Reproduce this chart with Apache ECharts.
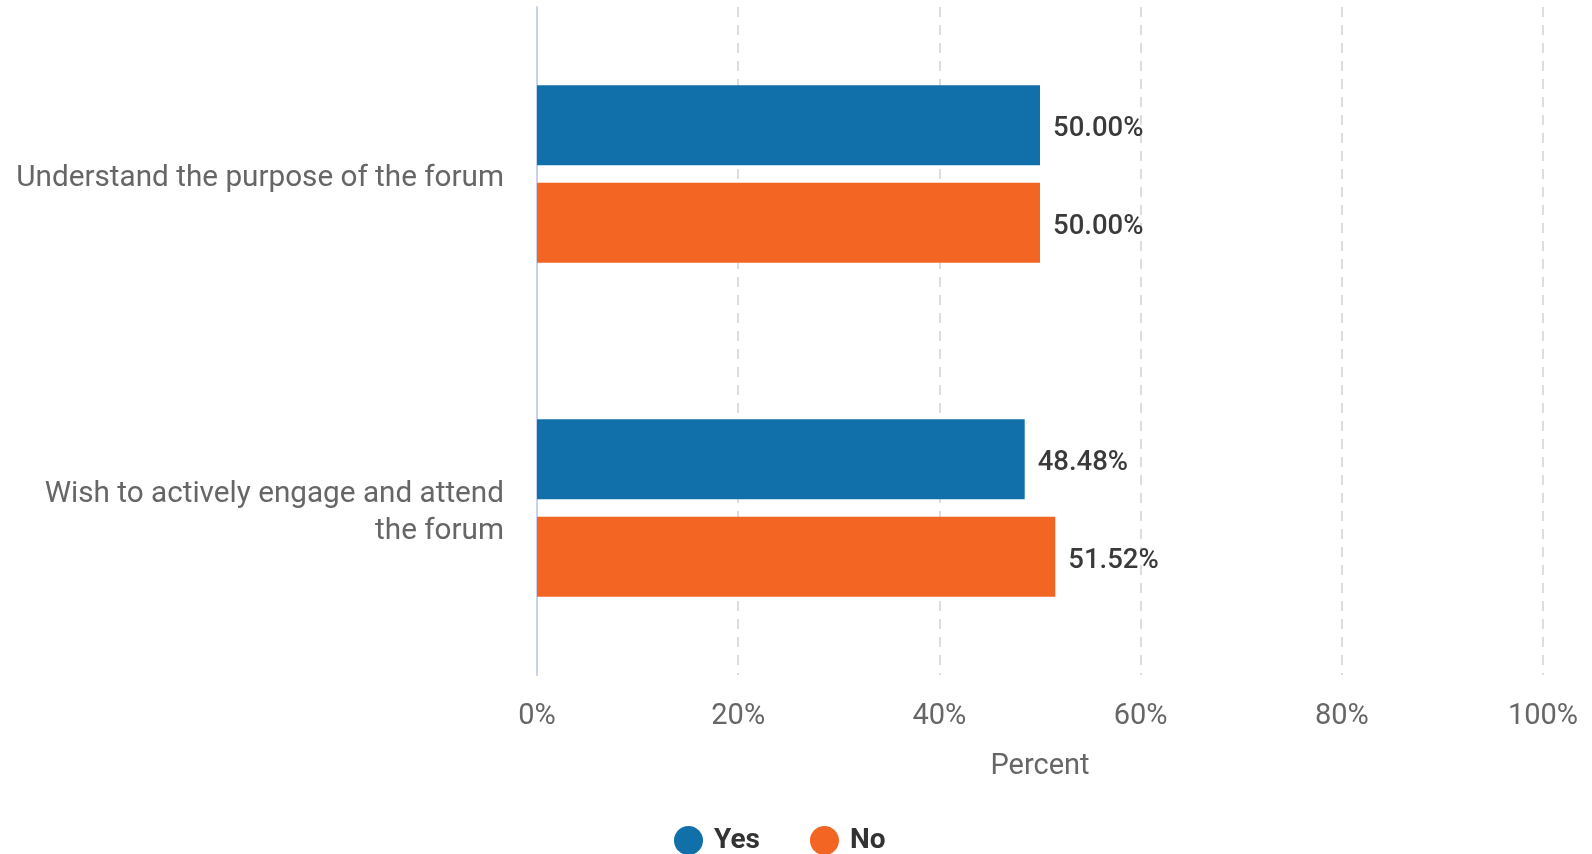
<!DOCTYPE html>
<html>
<head>
<meta charset="utf-8">
<script src="https://cdn.jsdelivr.net/npm/echarts@6/dist/echarts.min.js"></script>
<style>
  html, body { margin: 0; padding: 0; background: #fff; }
  #chart { width: 1592px; height: 854px; }
</style>
</head>
<body>
<div id="chart"></div>
<script>
// Survey questions (top to bottom)
const categories = [
  'Understand the purpose of the forum',
  'Wish to actively engage and attend\nthe forum'
];
// Share of respondents per answer, in percent
const yesValues = [50.00, 48.48];
const noValues = [50.00, 51.52];
const seriesNames = ['Yes', 'No'];
const tickValues = [0, 20, 40, 60, 80, 100];

const BLUE = '#1170aa';
const ORANGE = '#f26522';
const FONT = 'Roboto, "Noto Sans", sans-serif';

const chart = echarts.init(document.getElementById('chart'), null, { renderer: 'canvas' });

const barLabel = {
  show: true,
  position: 'right',
  distance: 13,
  offset: [0, 4],
  formatter: p => p.value.toFixed(2) + '%',
  color: '#3a3a3a',
  fontFamily: FONT,
  fontSize: 27.5,
  fontWeight: 500
};

// Category labels: every line carries a little top padding so the
// block sits optically centred on its pair of bars.
function categoryLabel(value) {
  return value.split('\n').map(line => '{cat|' + line + '}').join('\n');
}

chart.setOption({
  animation: false,
  textStyle: { fontFamily: FONT },
  grid: { left: 537, right: 49, top: 7, bottom: 179, containLabel: false },
  legend: {
    data: seriesNames,
    left: 669,
    top: 821,
    icon: 'circle',
    itemWidth: 29,
    itemHeight: 29,
    itemGap: 50,
    textStyle: { color: '#333333', fontSize: 28, fontWeight: 'bold', fontFamily: FONT, padding: [0, 0, 0, 6] }
  },
  xAxis: {
    type: 'value',
    min: tickValues[0],
    max: tickValues[tickValues.length - 1],
    interval: 20,
    name: 'Percent',
    nameLocation: 'middle',
    nameGap: 77,
    nameTextStyle: { color: '#666666', fontSize: 29, fontFamily: FONT },
    axisLine: { show: false },
    axisTick: { show: false },
    axisLabel: {
      color: '#666666',
      fontSize: 29,
      fontFamily: FONT,
      margin: 27,
      formatter: v => v + '%'
    },
    splitLine: { show: true, lineStyle: { color: '#dddddd', type: [10, 8], width: 2 } }
  },
  yAxis: {
    type: 'category',
    data: categories,
    inverse: true,
    axisLine: { show: true, lineStyle: { color: '#c9d2ec', width: 2 } },
    axisTick: { show: false },
    axisLabel: {
      color: '#666666',
      fontSize: 29.7,
      fontFamily: FONT,
      margin: 33,
      align: 'right',
      formatter: categoryLabel,
      rich: {
        cat: { color: '#666666', fontSize: 29.7, fontFamily: FONT, lineHeight: 36.6, padding: [10, 0, 0, 0] }
      }
    }
  },
  series: [
    {
      name: seriesNames[0],
      type: 'bar',
      data: yesValues,
      itemStyle: { color: BLUE },
      barWidth: 80,
      barGap: '22%',
      label: barLabel
    },
    {
      name: seriesNames[1],
      type: 'bar',
      data: noValues,
      itemStyle: { color: ORANGE },
      barWidth: 80,
      barGap: '22%',
      label: barLabel
    }
  ]
});
</script>
</body>
</html>
